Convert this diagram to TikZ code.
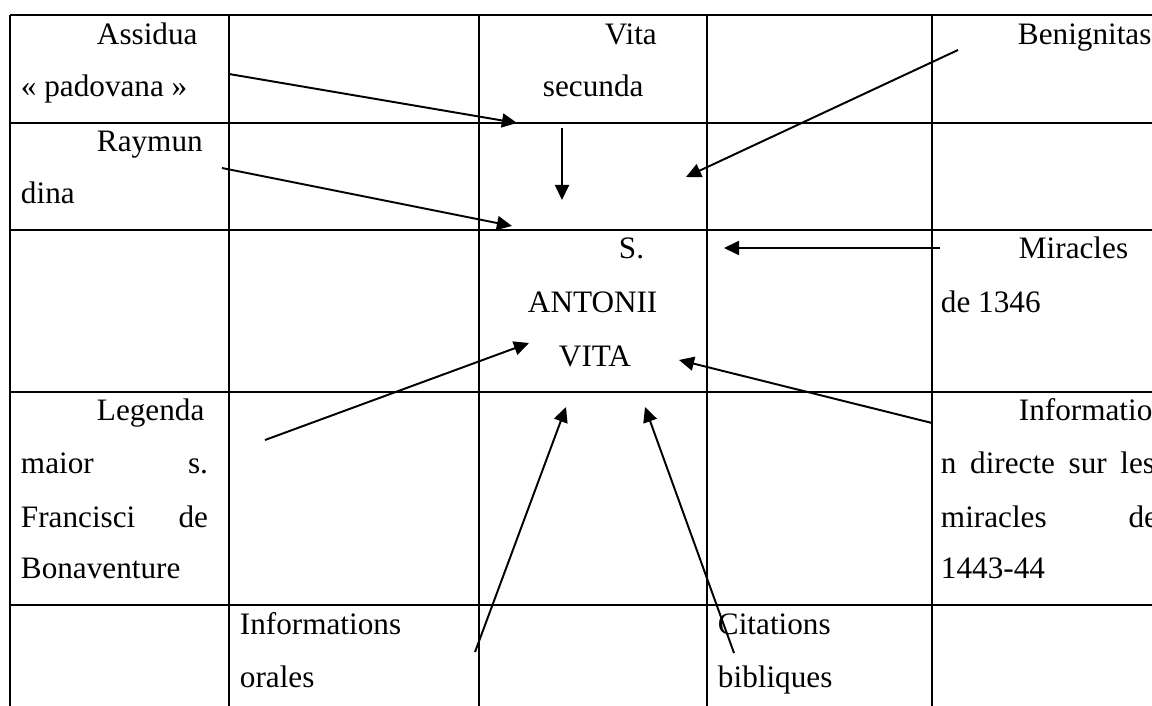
\documentclass[tikz,border=0pt]{standalone}
\usepackage{fontspec}
\setmainfont{Liberation Serif}
\usetikzlibrary{arrows.meta}
\newlength\px
\setlength\px{0.3846pt}
\newcommand\jline[2]{\makebox[#1\px][s]{#2}}

\begin{document}
\begin{tikzpicture}[x=\px,y=-\px,>={Triangle[length=5.8pt,width=5.4pt]},line width=0.75pt,font=\fontsize{12}{14}\selectfont]
\tikzstyle{t}=[anchor=base west,inner sep=0pt]
\useasboundingbox (0,0) rectangle (1152,706);
\clip (0,0) rectangle (1152,706);
% table
\foreach \x in {10,229,479,707,932} \draw (\x,15) -- (\x,720);
\foreach \y in {15,123,230,392,605} \draw (10,\y) -- (1170,\y);

\node[t]	(assidua)	at (96,45)		{Assidua};
\node[t]	(padovana)	at (20,97)		{« padovana »};
\node[t]	(raymun)	at (96,152)		{Raymun};
\node[t]	(dina)		at (20,204)		{dina};
\node[t]	(vitaA)		at (604,45)		{Vita};
\node[t]	(secunda)	at (542,97)		{secunda};
\node[t]	(benign)	at (1017,45)	{Benignitas};
\node[t]	(sant)		at (618,259)	{S.};
\node[t]	(antonii)	at (527,312)	{ANTONII};
\node[t]	(vitaB)		at (558,366)	{VITA};
\node[t]	(mirac)		at (1018,259)	{Miracles};
\node[t]	(de1346)	at (940,312)	{de 1346};
\node[t]	(legenda)	at (96,420)		{Legenda};
\node[t]	(maior)		at (20,473)		{\jline{187}{maior s.}};
\node[t]	(francisci)	at (20,527)		{\jline{187}{Francisci de}};
\node[t]	(bonav)		at (20,578)		{Bonaventure};
\node[t]	(informatio) at (1018,420)	{Informatio};
\node[t]	(directe)	at (940,473)	{\jline{214}{n directe sur les}};
\node[t]	(miracles)	at (940,527)	{\jline{217}{miracles de}};
\node[t]	(annees)	at (940,578)	{1443-44};
\node[t]	(inform)	at (239,634)	{Informations};
\node[t]	(orales)	at (239,687)	{orales};
\node[t]	(citations)	at (717,634)	{Citations};
\node[t]	(bibliques)	at (717,687)	{bibliques};

% arrow ends
\coordinate (fAssidua)	at (229,74);	\coordinate (tAssidua)	at (517,123);
\coordinate (fRaymun)	at (222,168);	\coordinate (tRaymun)	at (512,226);
\coordinate (fVita)		at (562,128);	\coordinate (tVita)		at (562,200);
\coordinate (fBenign)	at (958,50);	\coordinate (tBenign)	at (686,177);
\coordinate (fMirac)	at (940,248);	\coordinate (tMirac)	at (724,248);
\coordinate (fInfo)		at (932,423);	\coordinate (tInfo)		at (679,360);
\coordinate (fLegenda)	at (265,440);	\coordinate (tLegenda)	at (529,343);
\coordinate (fOrales)	at (475,652);	\coordinate (tOrales)	at (566,407);
\coordinate (fCit)		at (734,653);	\coordinate (tCit)		at (645,407);

\begin{scope}[->]
\path(fAssidua)	edge	(tAssidua)
	 (fRaymun)	edge	(tRaymun)
	 (fVita)	edge	(tVita)
	 (fBenign)	edge	(tBenign)
	 (fMirac)	edge	(tMirac)
	 (fInfo)	edge	(tInfo)
	 (fLegenda)	edge	(tLegenda)
	 (fOrales)	edge	(tOrales)
	 (fCit)		edge	(tCit);
\end{scope}
\end{tikzpicture}
\end{document}
